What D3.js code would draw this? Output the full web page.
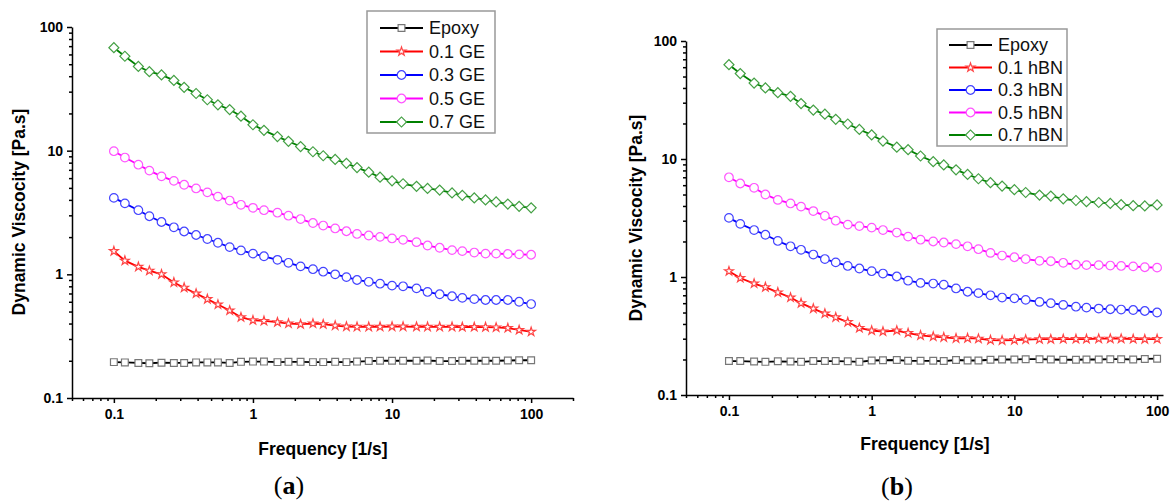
<!DOCTYPE html>
<html>
<head>
<meta charset="utf-8">
<script src="https://cdn.jsdelivr.net/npm/d3@7"></script>
<style>
  body { margin: 0; background: #fff; }
  svg { display: block; font-family: "Liberation Sans", Arial, sans-serif; }
  .axis path, .axis line { stroke: #000; stroke-width: 1.5; }
  .axis text { font-weight: bold; font-size: 14px; fill: #000; }
</style>
</head>
<body>
<svg width="1176" height="503"></svg>
<script>
// frequency grid [1/s], shared by both panels
var freq = [0.1, 0.12, 0.15, 0.18, 0.22, 0.27, 0.32, 0.39, 0.47, 0.56, 0.68, 0.82,
            1, 1.2, 1.5, 1.8, 2.2, 2.7, 3.2, 3.9, 4.7, 5.6, 6.8, 8.2,
            10, 12, 15, 18, 22, 27, 32, 39, 47, 56, 68, 82, 100];

// panel (a) – graphene
var labelsA = ["Epoxy", "0.1 GE", "0.3 GE", "0.5 GE", "0.7 GE"];
var epoxyA = [0.195, 0.194, 0.192, 0.191, 0.193, 0.192, 0.192, 0.194, 0.194, 0.194, 0.192, 0.196,
              0.197, 0.197, 0.195, 0.196, 0.196, 0.195, 0.195, 0.196, 0.195, 0.197, 0.199, 0.2,
              0.2, 0.2, 0.2, 0.201, 0.199, 0.199, 0.2, 0.2, 0.2, 0.2, 0.201, 0.202, 0.202];
var ge01 = [1.54, 1.29, 1.15, 1.07, 1.0, 0.86, 0.78, 0.7, 0.63, 0.57, 0.51, 0.45,
            0.425, 0.42, 0.41, 0.4, 0.395, 0.4, 0.395, 0.385, 0.378, 0.376, 0.376, 0.377,
            0.378, 0.378, 0.377, 0.376, 0.376, 0.376, 0.375, 0.375, 0.374, 0.372, 0.368, 0.355, 0.343];
var ge03 = [4.15, 3.75, 3.3, 2.95, 2.65, 2.4, 2.22, 2.08, 1.93, 1.8, 1.66, 1.56,
            1.47, 1.4, 1.31, 1.24, 1.16, 1.1, 1.05, 1.0, 0.95, 0.9, 0.87, 0.84,
            0.81, 0.8, 0.77, 0.72, 0.69, 0.665, 0.645, 0.63, 0.62, 0.62, 0.62, 0.6, 0.575];
var ge05 = [9.9, 8.8, 7.7, 6.9, 6.2, 5.7, 5.3, 4.95, 4.6, 4.25, 3.95, 3.65,
            3.45, 3.3, 3.15, 2.98, 2.8, 2.6, 2.48, 2.35, 2.23, 2.12, 2.06, 2.01,
            1.95, 1.9, 1.82, 1.71, 1.64, 1.57, 1.54, 1.5, 1.47, 1.47, 1.46, 1.45, 1.44];
var ge07 = [68, 58, 48, 43.5, 41, 37, 32.5, 29, 25.8, 23.5, 21.5, 19,
            16.2, 14.6, 13, 11.9, 10.8, 9.8, 9.1, 8.5, 7.9, 7.3, 6.7, 6.1,
            5.7, 5.4, 5.15, 4.95, 4.8, 4.55, 4.35, 4.15, 4.0, 3.85, 3.7, 3.55, 3.45];

// panel (b) – hexagonal boron nitride
var labelsB = ["Epoxy", "0.1 hBN", "0.3 hBN", "0.5 hBN", "0.7 hBN"];
var epoxyB = [0.194, 0.194, 0.192, 0.191, 0.193, 0.192, 0.191, 0.194, 0.194, 0.194, 0.193, 0.191,
              0.196, 0.197, 0.198, 0.195, 0.195, 0.195, 0.194, 0.198, 0.196, 0.196, 0.199, 0.2,
              0.2, 0.201, 0.201, 0.2, 0.199, 0.199, 0.2, 0.2, 0.201, 0.201, 0.2, 0.202, 0.203];
var bn01 = [1.12, 0.98, 0.88, 0.82, 0.74, 0.67, 0.6, 0.54, 0.49, 0.455, 0.415, 0.37,
            0.352, 0.345, 0.352, 0.335, 0.32, 0.313, 0.308, 0.302, 0.303, 0.3, 0.292, 0.29,
            0.292, 0.295, 0.297, 0.297, 0.298, 0.298, 0.298, 0.3, 0.3, 0.3, 0.298, 0.297, 0.298];
var bn03 = [3.17, 2.82, 2.5, 2.28, 2.02, 1.82, 1.7, 1.55, 1.42, 1.33, 1.24, 1.18,
            1.12, 1.07, 1.01, 0.93, 0.89, 0.88, 0.86, 0.8, 0.75, 0.73, 0.7, 0.67,
            0.66, 0.64, 0.615, 0.6, 0.58, 0.56, 0.55, 0.54, 0.533, 0.53, 0.525, 0.515, 0.5];
var bn05 = [7.0, 6.2, 5.7, 5.0, 4.5, 4.2, 3.95, 3.62, 3.3, 3.0, 2.78, 2.7,
            2.62, 2.5, 2.38, 2.2, 2.07, 2.0, 1.96, 1.9, 1.82, 1.72, 1.6, 1.52,
            1.47, 1.42, 1.37, 1.36, 1.32, 1.27, 1.26, 1.26, 1.25, 1.24, 1.23, 1.21, 1.2];
var bn07 = [63, 53, 44, 40, 36.5, 34, 29.5, 26, 24, 21.7, 19.8, 17.8,
            16, 14.2, 12.6, 12.0, 10.6, 9.5, 8.9, 8.1, 7.4, 6.8, 6.3, 5.9,
            5.5, 5.2, 4.95, 4.85, 4.6, 4.45, 4.35, 4.28, 4.2, 4.1, 4.02, 4.0, 4.08];

var xMajor = [0.1, 1, 10, 100];
var yMajor = [0.1, 1, 10, 100];

var colors = ["#000000", "#ff0000", "#0000ff", "#ff00ff", "#008000"];
var markStroke = ["#777777", "#ff4444", "#4444ff", "#ff55ff", "#44a044"];
var shapes = [
  { type: d3.symbolSquare, size: 46, rot: 0 },
  { type: d3.symbolStar, size: 24, rot: 0 },
  { type: d3.symbolCircle, size: 58, rot: 0 },
  { type: d3.symbolCircle, size: 58, rot: 0 },
  { type: d3.symbolSquare, size: 50, rot: 45 }
];

var svg = d3.select("svg");

function minorTicks(lo, hi) {
  var out = [];
  for (var e = -2; e <= 3; e++) {
    for (var k = 2; k <= 9; k++) {
      var v = k * Math.pow(10, e);
      if (v >= lo * 0.999 && v <= hi * 1.001) out.push(v);
    }
  }
  return out;
}

function fmt(d) { return d < 1 ? d3.format(".1f")(d) : d3.format("d")(d); }

function drawPanel(p) {
  var x = d3.scaleLog().domain(p.xDomain).range(p.xRange);
  var y = d3.scaleLog().domain([0.1, 100]).range(p.yRange);
  var g = svg.append("g");

  // axes: major + minor ticks, no top/right spines
  g.append("g").attr("class", "axis")
    .attr("transform", "translate(0," + p.yRange[0] + ")")
    .call(d3.axisBottom(x).tickValues(xMajor).tickFormat(fmt).tickSize(5).tickPadding(6).tickSizeOuter(0));
  g.append("g").attr("class", "axis")
    .attr("transform", "translate(0," + p.yRange[0] + ")")
    .call(d3.axisBottom(x).tickValues(minorTicks(p.xDomain[0], p.xDomain[1])).tickFormat("").tickSize(3).tickSizeOuter(0))
    .select(".domain").remove();
  g.append("g").attr("class", "axis")
    .attr("transform", "translate(" + p.xRange[0] + ",0)")
    .call(d3.axisLeft(y).tickValues(yMajor).tickFormat(fmt).tickSize(5).tickPadding(4).tickSizeOuter(0));
  g.append("g").attr("class", "axis")
    .attr("transform", "translate(" + p.xRange[0] + ",0)")
    .call(d3.axisLeft(y).tickValues(minorTicks(0.1, 100)).tickFormat("").tickSize(3).tickSizeOuter(0))
    .select(".domain").remove();

  var line = d3.line()
    .x(function(d) { return x(d[0]); })
    .y(function(d) { return y(d[1]); });

  p.series.forEach(function(vals, si) {
    var pts = freq.map(function(f, i) { return [f, vals[i]]; });
    g.append("path")
      .attr("d", line(pts))
      .attr("fill", "none")
      .attr("stroke", colors[si])
      .attr("stroke-width", 1.8);
    var sym = d3.symbol().type(shapes[si].type).size(shapes[si].size);
    g.selectAll(null).data(pts).enter().append("path")
      .attr("d", sym)
      .attr("transform", function(d) {
        return "translate(" + x(d[0]) + "," + y(d[1]) + ") rotate(" + shapes[si].rot + ")";
      })
      .attr("fill", "#fff")
      .attr("stroke", markStroke[si])
      .attr("stroke-width", 1.2);
  });

  // legend
  var L = p.legend;
  g.append("rect")
    .attr("x", L.x).attr("y", L.y).attr("width", L.w).attr("height", L.h)
    .attr("fill", "#fff").attr("stroke", "#999").attr("stroke-width", 1.5);
  p.labels.forEach(function(lab, si) {
    var ry = L.row0 + si * L.dy;
    g.append("line")
      .attr("x1", L.lx).attr("x2", L.lx + 43).attr("y1", ry).attr("y2", ry)
      .attr("stroke", colors[si]).attr("stroke-width", 1.8);
    g.append("path")
      .attr("d", d3.symbol().type(shapes[si].type).size(shapes[si].size)())
      .attr("transform", "translate(" + (L.lx + 21.5) + "," + ry + ") rotate(" + shapes[si].rot + ")")
      .attr("fill", "#fff").attr("stroke", markStroke[si]).attr("stroke-width", 1.2);
    g.append("text")
      .attr("x", L.lx + 49).attr("y", ry).attr("dy", "0.36em")
      .style("font-size", "18px").attr("fill", "#111")
      .text(lab);
  });

  // titles
  g.append("text")
    .attr("x", p.xTitle[0]).attr("y", p.xTitle[1])
    .attr("text-anchor", "middle")
    .style("font-size", "17.5px").style("font-weight", "bold")
    .text("Frequency [1/s]");
  g.append("text")
    .attr("transform", "translate(" + p.yTitle[0] + "," + p.yTitle[1] + ") rotate(-90)")
    .attr("text-anchor", "middle").attr("dy", "0.35em")
    .style("font-size", "17.5px").style("font-weight", "bold")
    .text("Dynamic Viscocity [Pa.s]");

  // caption
  var cap = g.append("text")
    .attr("x", p.caption[0]).attr("y", p.caption[1])
    .attr("text-anchor", "middle")
    .style("font-family", "'Liberation Serif', 'DejaVu Serif', serif")
    .style("font-size", "26px");
  cap.append("tspan").text("(");
  cap.append("tspan").style("font-weight", "bold").text(p.letter);
  cap.append("tspan").text(")");
}

drawPanel({
  xDomain: [0.05, 200], xRange: [72, 573], yRange: [398, 27],
  series: [epoxyA, ge01, ge03, ge05, ge07], labels: labelsA,
  legend: { x: 367, y: 11, w: 128, h: 122, lx: 380, row0: 28, dy: 23.5 },
  xTitle: [323, 455], yTitle: [19, 212], caption: [289, 494], letter: "a"
});

drawPanel({
  xDomain: [0.05, 110], xRange: [686, 1163], yRange: [395, 41],
  series: [epoxyB, bn01, bn03, bn05, bn07], labels: labelsB,
  legend: { x: 937, y: 29, w: 130, h: 117, lx: 949, row0: 45, dy: 22.5 },
  xTitle: [925, 450], yTitle: [636, 218], caption: [897, 495], letter: "b"
});
</script>
</body>
</html>
